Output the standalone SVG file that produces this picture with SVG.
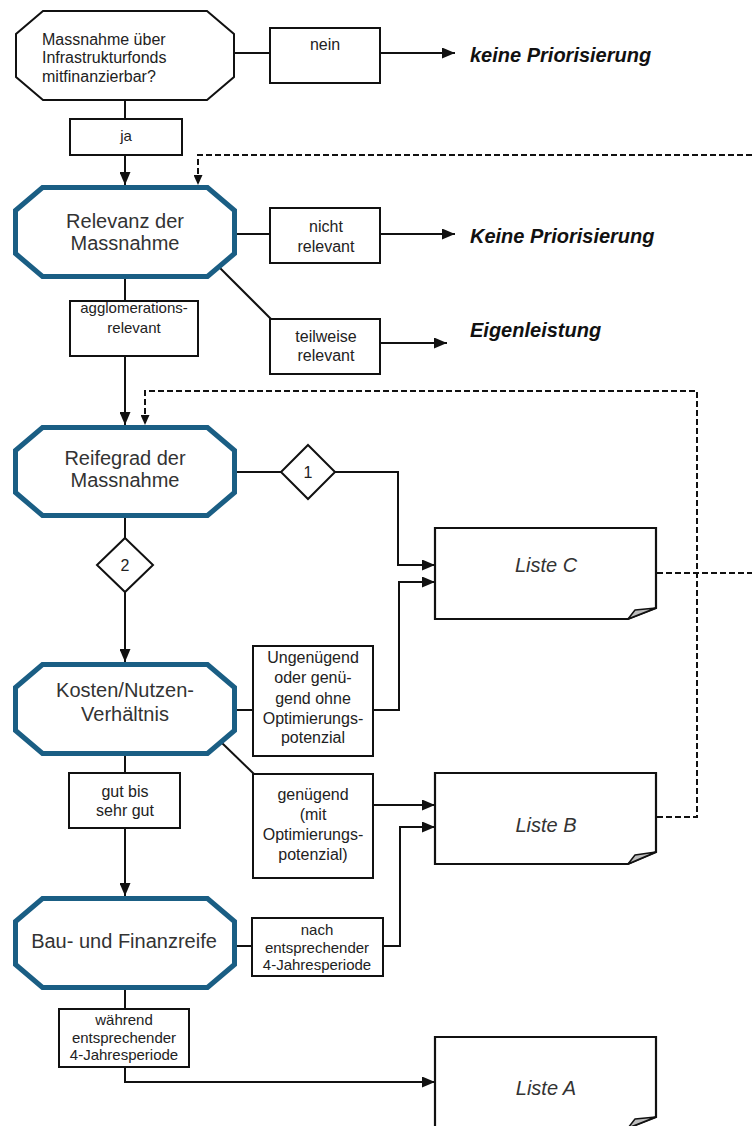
<svg xmlns="http://www.w3.org/2000/svg" width="752" height="1126" viewBox="0 0 752 1126">
<style>
  .oct { fill: #fff; stroke: #1a5e84; stroke-width: 5; stroke-linejoin: miter; }
  .oct0 { fill: #fff; stroke: #111; stroke-width: 2; }
  .box { fill: #fff; stroke: #111; stroke-width: 2; }
  .dia { fill: #fff; stroke: #111; stroke-width: 2; }
  .doc { fill: #fff; stroke: #111; stroke-width: 2.2; stroke-linejoin: miter; }
  .fold { fill: #bdbdbd; stroke: #111; stroke-width: 1.5; stroke-linejoin: round; }
  .t { font-family: "Liberation Sans", Arial, sans-serif; fill: #222; }
  .big { font-size: 20px; fill: #333; text-anchor: middle; }
  .lbl { font-size: 16px; text-anchor: middle; }
  .sm { font-size: 15px; text-anchor: middle; }
  .out { font-size: 20px; font-weight: bold; font-style: italic; fill: #111; }
  .lst { font-size: 20px; font-style: italic; fill: #333; text-anchor: middle; }
  .c { fill: none; stroke: #111; stroke-width: 2; }
  .d { fill: none; stroke: #111; stroke-width: 2; stroke-dasharray: 6 3; }
</style>
<defs>
  <marker id="ah" markerUnits="userSpaceOnUse" markerWidth="13" markerHeight="11" refX="13" refY="5.5" orient="auto">
    <path d="M0,0 L13,5.5 L0,11 z" fill="#111"/>
  </marker>
  <marker id="ahs" markerUnits="userSpaceOnUse" markerWidth="10" markerHeight="9" refX="10" refY="4.5" orient="auto">
    <path d="M0,0 L10,4.5 L0,9 z" fill="#111"/>
  </marker>
</defs>

<g id="connectors">
  <path class="c" d="M234,53 H270"/>
  <path class="c" d="M380,53 H455" marker-end="url(#ah)"/>
  <path class="c" d="M125,100 V119"/>
  <path class="c" d="M125,155 V185" marker-end="url(#ah)"/>
  <path class="d" d="M752,155 H198 V185" marker-end="url(#ahs)"/>
  <path class="c" d="M235,234 H270"/>
  <path class="c" d="M380,234 H455" marker-end="url(#ah)"/>
  <path class="c" d="M220,268 L271,319"/>
  <path class="c" d="M380,343 H447" marker-end="url(#ah)"/>
  <path class="c" d="M125,277 V301"/>
  <path class="c" d="M125,356 V425" marker-end="url(#ah)"/>
  <path class="d" d="M657,817 H697 V391 H145 V425" marker-end="url(#ahs)"/>
  <path class="d" d="M657,573 H752"/>
  <path class="c" d="M236,472 H281"/>
  <path class="c" d="M335,472 H398 V565 H435" marker-end="url(#ah)"/>
  <path class="c" d="M125,516 V538"/>
  <path class="c" d="M125,592 V662" marker-end="url(#ah)"/>
  <path class="c" d="M236,710 H253"/>
  <path class="c" d="M373,710 H399 V582 H435" marker-end="url(#ah)"/>
  <path class="c" d="M222,743 L254,774"/>
  <path class="c" d="M373,805 H435" marker-end="url(#ah)"/>
  <path class="c" d="M125,754 V773"/>
  <path class="c" d="M125,828 V896" marker-end="url(#ah)"/>
  <path class="c" d="M236,946 H252"/>
  <path class="c" d="M383,946 H400 V827 H435" marker-end="url(#ah)"/>
  <path class="c" d="M125,988 V1009"/>
  <path class="c" d="M125,1067 V1082 H435" marker-end="url(#ah)"/>
</g>

<g id="n-start">
  <polygon class="oct0" points="43,11 207,11 234,34 234,77 207,100 43,100 16,77 16,34"/>
  <text class="t" font-size="16" x="42" y="45">Massnahme über</text>
  <text class="t" font-size="16" x="42" y="63">Infrastrukturfonds</text>
  <text class="t" font-size="16" x="42" y="82">mitfinanzierbar?</text>
</g>
<g id="b-nein">
  <rect class="box" x="270" y="28" width="110" height="55"/>
  <text class="t lbl" x="325" y="50">nein</text>
</g>
<g id="o-keine1"><text class="t out" x="470" y="62">keine Priorisierung</text></g>
<g id="b-ja">
  <rect class="box" x="70" y="119" width="112" height="36"/>
  <text class="t sm" x="126" y="141">ja</text>
</g>

<g id="n-relevanz">
  <polygon class="oct" points="42.5,187.5 207.5,187.5 234.5,210.5 234.5,253.5 207.5,276.5 42.5,276.5 15.5,253.5 15.5,210.5"/>
  <text class="t big" x="125" y="228">Relevanz der</text>
  <text class="t big" x="125" y="250">Massnahme</text>
</g>
<g id="b-nicht">
  <rect class="box" x="270" y="208" width="110" height="55"/>
  <text class="t lbl" x="326" y="232">nicht</text>
  <text class="t lbl" x="326" y="252">relevant</text>
</g>
<g id="o-keine2"><text class="t out" x="470" y="243">Keine Priorisierung</text></g>
<g id="b-teilweise">
  <rect class="box" x="270" y="319" width="110" height="55"/>
  <text class="t lbl" x="326" y="342">teilweise</text>
  <text class="t lbl" x="326" y="361">relevant</text>
</g>
<g id="o-eigen"><text class="t out" x="470" y="337">Eigenleistung</text></g>
<g id="b-agglo">
  <rect class="box" x="70" y="301" width="128" height="55"/>
  <text class="t sm" x="134" y="313">agglomerations-</text>
  <text class="t sm" x="134" y="333">relevant</text>
</g>

<g id="n-reifegrad">
  <polygon class="oct" points="42.5,427.5 207.5,427.5 234.5,450.5 234.5,492.5 207.5,515.5 42.5,515.5 15.5,492.5 15.5,450.5"/>
  <text class="t big" x="125" y="465">Reifegrad der</text>
  <text class="t big" x="125" y="487">Massnahme</text>
</g>
<g id="d-1">
  <polygon class="dia" points="308,445 335,472 308,499 281,472"/>
  <text class="t lbl" x="308" y="478">1</text>
</g>
<g id="d-2">
  <polygon class="dia" points="125,538 153,565 125,592 97,565"/>
  <text class="t lbl" x="125" y="571">2</text>
</g>

<g id="l-c">
  <path class="doc" d="M435,528 H656 V608 L628,619 H435 Z"/>
  <polygon class="fold" points="628,619 635,610 656,608"/>
  <text class="t lst" x="546" y="572">Liste C</text>
</g>

<g id="n-kosten">
  <polygon class="oct" points="42.5,664.5 207.5,664.5 234.5,687.5 234.5,730.5 207.5,753.5 42.5,753.5 15.5,730.5 15.5,687.5"/>
  <text class="t big" x="125" y="697">Kosten/Nutzen-</text>
  <text class="t big" x="125" y="721">Verhältnis</text>
</g>
<g id="b-ungenuegend">
  <rect class="box" x="253" y="646" width="120" height="110"/>
  <text class="t lbl" x="313" y="663">Ungenügend</text>
  <text class="t lbl" x="313" y="683">oder genü-</text>
  <text class="t lbl" x="313" y="704">gend ohne</text>
  <text class="t lbl" x="313" y="724">Optimierungs-</text>
  <text class="t lbl" x="313" y="743">potenzial</text>
</g>
<g id="b-genuegend">
  <rect class="box" x="253" y="774" width="120" height="104"/>
  <text class="t lbl" x="313" y="800">genügend</text>
  <text class="t lbl" x="313" y="820">(mit</text>
  <text class="t lbl" x="313" y="840">Optimierungs-</text>
  <text class="t lbl" x="313" y="860">potenzial)</text>
</g>
<g id="b-gut">
  <rect class="box" x="69" y="773" width="111" height="55"/>
  <text class="t lbl" x="125" y="797">gut bis</text>
  <text class="t lbl" x="125" y="816">sehr gut</text>
</g>

<g id="l-b">
  <path class="doc" d="M435,773 H656 V852 L628,864 H435 Z"/>
  <polygon class="fold" points="628,864 635,855 656,852"/>
  <text class="t lst" x="546" y="832">Liste B</text>
</g>

<g id="n-bau">
  <polygon class="oct" points="42.5,898.5 207.5,898.5 234.5,921.5 234.5,964.5 207.5,987.5 42.5,987.5 15.5,964.5 15.5,921.5"/>
  <text class="t big" x="124" y="948">Bau- und Finanzreife</text>
</g>
<g id="b-nach">
  <rect class="box" x="252" y="918" width="131" height="58"/>
  <text class="t sm" x="317" y="935">nach</text>
  <text class="t sm" x="317" y="953">entsprechender</text>
  <text class="t sm" x="317" y="970">4-Jahresperiode</text>
</g>
<g id="b-waehrend">
  <rect class="box" x="59" y="1009" width="130" height="58"/>
  <text class="t sm" x="124" y="1025">während</text>
  <text class="t sm" x="124" y="1043">entsprechender</text>
  <text class="t sm" x="124" y="1060">4-Jahresperiode</text>
</g>

<g id="l-a">
  <path class="doc" d="M435,1037 H656 V1117 L628,1128 H435 Z"/>
  <polygon class="fold" points="628,1128 635,1119 656,1117"/>
  <text class="t lst" x="546" y="1095">Liste A</text>
</g>
</svg>
